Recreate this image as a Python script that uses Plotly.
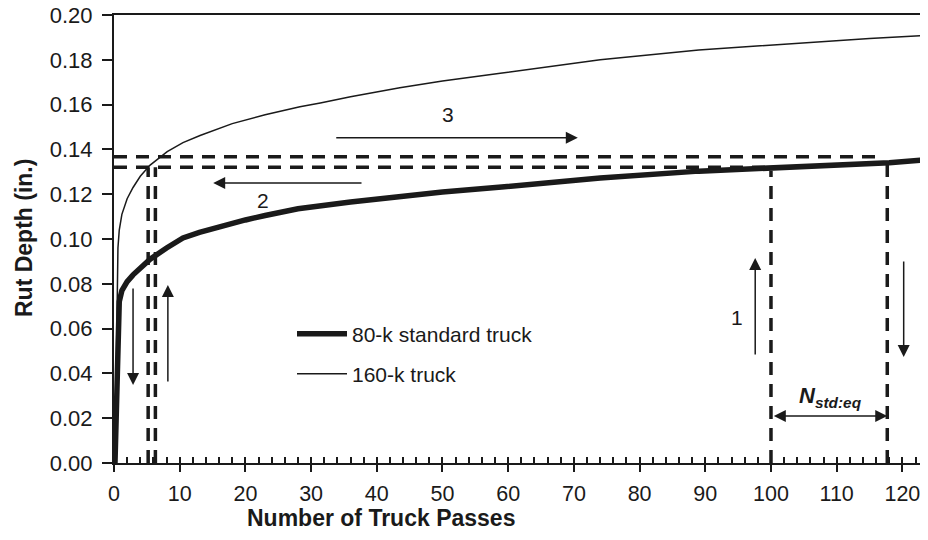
import plotly.graph_objects as go

# ---------------- data ----------------
passes_80k = [0.15, 0.3, 0.45, 0.6, 0.8, 1.2, 2.0, 2.9, 4.0, 5.5, 8, 10.5, 13, 16, 20, 23,
              28, 36, 43.5, 50, 59, 64, 74, 89, 100, 110, 118, 124]
rut_80k = [0.000, 0.018, 0.036, 0.062, 0.072, 0.077, 0.081, 0.084, 0.087, 0.091, 0.096,
           0.1005, 0.1030, 0.1055, 0.1085, 0.1105, 0.1135, 0.1165, 0.119, 0.121, 0.1232,
           0.1245, 0.1272, 0.1303, 0.1315, 0.133, 0.1340, 0.1355]

passes_160k = [0.15, 0.3, 0.45, 0.6, 0.8, 1.2, 2.0, 2.9, 4.0, 5.5, 8.1, 10.5, 13.1, 16, 18,
               23, 28.3, 31.4, 36, 43.5, 50, 58.8, 66, 74, 89, 104, 115, 124]
rut_160k = [0.000, 0.030, 0.066, 0.096, 0.104, 0.111, 0.118, 0.123, 0.128, 0.133, 0.139,
            0.143, 0.1462, 0.1495, 0.1515, 0.1555, 0.1590, 0.1607, 0.1635, 0.1675, 0.1705,
            0.174, 0.177, 0.180, 0.1844, 0.1875, 0.1895, 0.191]

x_ticks = [0, 10, 20, 30, 40, 50, 60, 70, 80, 90, 100, 110, 120]
x_minor_ticks = list(range(0, 125, 2))
y_ticks = [0.00, 0.02, 0.04, 0.06, 0.08, 0.10, 0.12, 0.14, 0.16, 0.18, 0.20]

# dashed guide lines: (x list, y list)
guide_upper_h = ([0, 117], [0.1367, 0.1367])
guide_lower_h = ([0, 100], [0.1320, 0.1320])
guide_v1 = ([5.2, 5.2], [0, 0.1320])
guide_v2 = ([6.3, 6.3], [0, 0.1320])
guide_v100 = ([100, 100], [0, 0.1305])
guide_v118 = ([117.7, 117.7], [0, 0.1340])

# arrows: (tail_x, tail_y, tip_x, tip_y)
arrows = [
    (2.9, 0.0786, 2.9, 0.0348),
    (8.2, 0.0357, 8.2, 0.0795),
    (97.6, 0.0478, 97.6, 0.0915),
    (120.2, 0.0906, 120.2, 0.0473),
    (33.6, 0.1452, 70.6, 0.1452),
    (37.9, 0.1250, 15.1, 0.1250),
]
double_arrow = (100.2, 0.021, 117.7, 0.021)
step_labels = [("1", 94.8, 0.065), ("2", 22.7, 0.1174), ("3", 50.8, 0.1554)]
n_label = ("<b><i>N</i></b><sub><b><i>std:eq</i></b></sub>", 109.0, 0.0295)

FONT = "Liberation Sans, Arial, Helvetica, sans-serif"
INK = "#1a1a1a"

fig = go.Figure()

dash_pat = "13px,9px"
for gx, gy in [guide_upper_h, guide_lower_h, guide_v1, guide_v2, guide_v100, guide_v118]:
    fig.add_trace(go.Scatter(x=gx, y=gy, mode="lines", showlegend=False, hoverinfo="skip",
                             line=dict(color=INK, width=3.5, dash=dash_pat)))

fig.add_trace(go.Scatter(x=passes_160k, y=rut_160k, mode="lines", name="160-k truck",
                         line=dict(color=INK, width=1.5), legend="legend2"))
fig.add_trace(go.Scatter(x=passes_80k, y=rut_80k, mode="lines", name="80-k standard truck",
                         line=dict(color=INK, width=5.5), legend="legend"))

# invisible trace on overlay axis for crossing/minor ticks
fig.add_trace(go.Scatter(x=[0], y=[0], xaxis="x2", mode="markers", showlegend=False,
                         hoverinfo="skip", marker=dict(opacity=0)))

for tx, ty, hx, hy in arrows:
    fig.add_annotation(x=hx, y=hy, ax=tx, ay=ty, xref="x", yref="y", axref="x", ayref="y",
                       showarrow=True, arrowhead=2, arrowsize=1.6, arrowwidth=1.5,
                       arrowcolor=INK, text="", standoff=0)

dx0, dy0, dx1, dy1 = double_arrow
fig.add_annotation(x=dx1, y=dy1, ax=dx0, ay=dy0, xref="x", yref="y", axref="x", ayref="y",
                   showarrow=True, arrowhead=2, startarrowhead=2, arrowside="end+start",
                   arrowsize=1.6, startarrowsize=1.6, arrowwidth=1.5, arrowcolor=INK,
                   text="", standoff=0, startstandoff=0)

for t, lx, ly in step_labels:
    fig.add_annotation(x=lx, y=ly, xref="x", yref="y", text=t, showarrow=False,
                       font=dict(family=FONT, size=21, color=INK))

fig.add_annotation(x=n_label[1], y=n_label[2], xref="x", yref="y", text=n_label[0],
                   showarrow=False, font=dict(family=FONT, size=22, color=INK))

# axis titles (positions relative to the plot area)
fig.add_annotation(x=(381 - 114) / 814, y=(463 - 518) / 448, xref="paper", yref="paper",
                   text="<b>Number of Truck Passes</b>", showarrow=False,
                   xanchor="center", yanchor="middle",
                   font=dict(family=FONT, size=23, color=INK))
fig.add_annotation(x=(24 - 114) / 814, y=(463 - 238) / 448, xref="paper", yref="paper",
                   text="<b>Rut Depth (in.)</b>", showarrow=False, textangle=-90,
                   xanchor="center", yanchor="middle",
                   font=dict(family=FONT, size=23, color=INK))

axis_common = dict(showgrid=False, zeroline=False, color=INK, automargin=False)
# page body has an 8px margin, so the figure is drawn 8px smaller and shifted
fig.update_layout(
    width=920, height=532,
    margin=dict(l=106, r=0, t=7, b=77, pad=0, autoexpand=False),
    paper_bgcolor="white", plot_bgcolor="white",
    font=dict(family=FONT, size=21, color=INK),
    xaxis=dict(range=[0, 123.9], tickvals=x_ticks, ticks="outside", ticklen=7,
               tickwidth=1.5, tickcolor=INK, showline=True, linewidth=2, linecolor=INK,
               mirror=True, tickfont=dict(family=FONT, size=21.5, color=INK),
               ticklabelstandoff=3, ticklabeloverflow="allow", **axis_common),
    xaxis2=dict(range=[0, 123.9], overlaying="x", matches="x", anchor="y", side="bottom",
                tickvals=x_minor_ticks, ticks="inside", ticklen=6, tickwidth=1.5,
                tickcolor=INK, showticklabels=False, showline=False, **axis_common),
    yaxis=dict(range=[0, 0.2], tickvals=y_ticks, tickformat=".2f", ticks="outside",
               ticklen=10, tickwidth=1.5, tickcolor=INK, showline=True, linewidth=2,
               linecolor=INK, tickfont=dict(family=FONT, size=22, color=INK),
               ticklabelstandoff=5, ticklabeloverflow="allow", **axis_common),
    legend=dict(x=(292 - 114) / 814, y=(463 - 334) / 448, xanchor="left", yanchor="middle",
                bgcolor="rgba(0,0,0,0)", itemwidth=50,
                font=dict(family=FONT, size=21, color=INK)),
    legend2=dict(x=(292 - 114) / 814, y=(463 - 374) / 448, xanchor="left", yanchor="middle",
                 bgcolor="rgba(0,0,0,0)", itemwidth=50,
                 font=dict(family=FONT, size=21, color=INK)),
    showlegend=True,
)

fig.write_html("out.html")
